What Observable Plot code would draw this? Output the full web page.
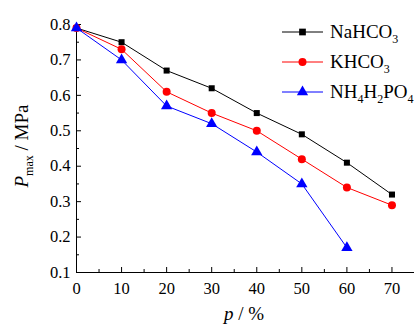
<!DOCTYPE html>
<html><head><meta charset="utf-8">
<script src="https://cdn.jsdelivr.net/npm/d3@7"></script>
<script src="https://cdn.jsdelivr.net/npm/@observablehq/plot@0.6"></script>
<style>body{margin:0;background:#fff}#c{position:relative;width:414px;height:324px}</style>
</head><body><div id="c"></div>
<script>
const ratios = [0,10,20,30,40,50,60,70];
const nahco3 = [0.79,0.75,0.67,0.62,0.55,0.49,0.41,0.32];
const khco3  = [0.79,0.73,0.61,0.55,0.50,0.42,0.34,0.29];
const nh4    = [0.79,0.70,0.57,0.52,0.44,0.35,0.17];
const seriesNames = ["NaHCO3","KHCO3","NH4H2PO4"];
const colors = ["#000000","#ff0000","#0000ff"];
const symbols = ["square","circle","triangle"];
const xTicks = [0,10,20,30,40,50,60,70];
const xMinor = [5,15,25,35,45,55,65,75];
const yTicks = [0.1,0.2,0.3,0.4,0.5,0.6,0.7,0.8];
const yMinor = [0.15,0.25,0.35,0.45,0.55,0.65,0.75];

const vals=[nahco3,khco3,nh4];
const data=[];
vals.forEach((v,i)=>v.forEach((y,j)=>data.push({s:seriesNames[i],x:ratios[j],y})));
const font="'Liberation Serif', 'Times New Roman', serif";
const marks=[
  Plot.axisX({ticks:xTicks,tickSize:0,tickPadding:10,tickFormat:d=>d,label:null}),
  Plot.axisX({ticks:xTicks,tickSize:5,dy:-5,tickFormat:()=>"",label:null}),
  Plot.axisX({ticks:xMinor,tickSize:3,dy:-3,tickFormat:()=>"",label:null}),
  Plot.axisY({ticks:yTicks,tickSize:0,tickPadding:6,tickFormat:d=>d.toFixed(1),label:null}),
  Plot.axisY({ticks:yTicks,tickSize:5,dx:5,tickFormat:()=>"",label:null}),
  Plot.axisY({ticks:yMinor,tickSize:3,dx:3,tickFormat:()=>"",label:null}),
  Plot.ruleX([0]),
  Plot.ruleY([0.1]),
];
seriesNames.forEach((s,i)=>{
  const d=data.filter(e=>e.s===s);
  marks.push(Plot.line(d,{x:"x",y:"y",stroke:colors[i],strokeWidth:1}));
  marks.push(Plot.dot(d,{x:"x",y:"y",fill:colors[i],symbol:()=>symbols[i],r:i===2?4.2:(i===0?3.4:4),stroke:"none"}));
});
const chart=Plot.plot({
  width:414,height:324,marginLeft:76,marginRight:0,marginTop:24,marginBottom:52,
  style:{background:"#fff",color:"#000"},
  x:{domain:[0,75]},y:{domain:[0.1,0.8]},
  symbol:{type:"identity"},
  marks
});
document.getElementById("c").appendChild(chart);
const svg=d3.select(chart);
svg.selectAll("text").style("font-family",font).style("font-size","16.5px").attr("fill","#000");
// axis titles
const yt=svg.append("text").attr("transform","translate(28,146) rotate(-90)").attr("text-anchor","middle")
  .style("font-family",font).style("font-size","19px").attr("fill","#000");
yt.append("tspan").attr("font-style","italic").text("P");
yt.append("tspan").style("font-size","12px").attr("dy",5).text("max");
yt.append("tspan").attr("dy",-5).text(" / MPa");
const xt=svg.append("text").attr("x",244).attr("y",320).attr("text-anchor","middle")
  .style("font-family",font).style("font-size","19px").attr("fill","#000");
xt.append("tspan").attr("font-style","italic").text("p");
xt.append("tspan").text(" / %");
// legend
const leg=[
  [["NaHCO",0],["3",1]],
  [["KHCO",0],["3",1]],
  [["NH",0],["4",1],["H",0],["2",1],["PO",0],["4",1]]
];
const shapes=[d3.symbolSquare,d3.symbolCircle,d3.symbolTriangle];
const sizes=[45,50,55];
leg.forEach((parts,i)=>{
  const y=32+i*30;
  const g=svg.append("g");
  g.append("line").attr("x1",282).attr("x2",323).attr("y1",y).attr("y2",y).attr("stroke",colors[i]).attr("stroke-width",1);
  g.append("path").attr("d",d3.symbol(shapes[i],sizes[i])()).attr("transform",`translate(302.5,${y})`).attr("fill",colors[i]);
  const t=g.append("text").attr("x",330).attr("y",y+6).attr("text-anchor","start").style("font-family",font).style("font-size","19px").attr("fill","#000");
  let down=false;
  parts.forEach(([s,sub])=>{
    const ts=t.append("tspan").text(s);
    if(sub){ts.style("font-size","12px").attr("dy",down?0:5);down=true;}
    else{ts.attr("dy",down?-5:0);down=false;}
  });
});
</script></body></html>
